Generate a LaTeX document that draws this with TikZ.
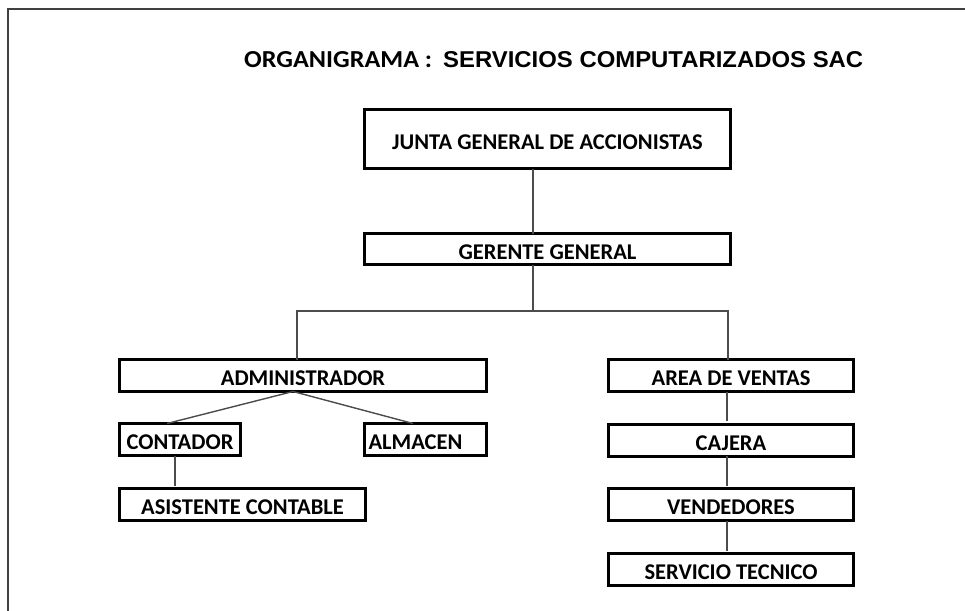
\documentclass[tikz,border=0pt]{standalone}
\usepackage{fontspec}
\setmainfont{Carlito}
\newfontfamily\arialb{Liberation Sans}
\usetikzlibrary{calc}
\tikzset{
  orgbox/.style={draw=black, line width=3pt, fill=white, inner sep=0pt,
    font=\bfseries\fontsize{22.5}{25}\selectfont, text height=20.5pt, text depth=0pt},
  link/.style={draw=black!70, line width=1.5pt},
  frameline/.style={draw=black!75, line width=2.2pt}
}
\begin{document}
\begin{tikzpicture}[x=1pt,y=-1pt]
\useasboundingbox (0,0) rectangle (965,610);
\fill[white] (0,0) rectangle (965,610);
% frame
\draw[frameline] (8,612) -- (8,9) -- (967,9);
% title
\node[anchor=base west, inner sep=0pt] (t1) at (244,67) {\resizebox{188pt}{16pt}{\bfseries ORGANIGRAMA :}};
\node[anchor=base west, inner sep=0pt] (t2) at (443,67) {\resizebox{420pt}{16pt}{\arialb\bfseries SERVICIOS COMPUTARIZADOS SAC}};
% boxes
\node[orgbox, minimum width=366pt, minimum height=59pt] (junta) at (547.5,139) {JUNTA GENERAL DE ACCIONISTAS};
\node[orgbox, minimum width=366pt, minimum height=31pt] (gerente) at (547.5,249) {GERENTE GENERAL};
\node[orgbox, minimum width=367pt, minimum height=32pt] (admin) at (303,375.5) {ADMINISTRADOR};
\node[orgbox, minimum width=121pt, minimum height=32pt] (contador) at (180,439.5) {CONTADOR};
\node[orgbox, text width=114pt, inner xsep=4pt, align=left, minimum height=32pt] (almacen) at (425.5,439.5) {ALMACEN};
\node[orgbox, minimum width=246pt, minimum height=32pt] (asistente) at (242.5,504.5) {ASISTENTE CONTABLE};
\node[orgbox, minimum width=245pt, minimum height=32pt] (area) at (731,375.5) {AREA DE VENTAS};
\node[orgbox, minimum width=245pt, minimum height=32pt] (cajera) at (731,440) {CAJERA};
\node[orgbox, minimum width=245pt, minimum height=32pt] (vend) at (731,504.5) {VENDEDORES};
\node[orgbox, minimum width=245pt, minimum height=32pt] (serv) at (731,569.5) {SERVICIO TECNICO};
% helper coordinates
\coordinate (gv) at (533,0);
\coordinate (busL) at (297,311);
\coordinate (busM) at (533,311);
\coordinate (busR) at (728,311);
\coordinate (ad) at (293,0);
\coordinate (ct) at (167,0);
\coordinate (al) at (413,0);
\coordinate (cv) at (175,0);
\coordinate (rv) at (727,0);
% connectors
\draw[link] ([yshift=1.5pt]junta.south -| gv) -- ([yshift=-1.5pt]gerente.north -| gv);
\draw[link] ([yshift=1.5pt]gerente.south -| gv) -- ([yshift=1pt]busM);
\draw[link] ([yshift=-1.5pt]admin.north -| busL) -- (busL) -- (busR) -- ([yshift=-1.5pt]area.north -| busR);
\draw[link, line width=1.4pt] ([yshift=1.5pt]admin.south -| ad) -- ([yshift=-1.5pt]contador.north -| ct);
\draw[link, line width=1.4pt] ([yshift=1.5pt]admin.south -| ad) -- ([yshift=-1.5pt]almacen.north -| al);
\draw[link, shorten >=3pt] ([yshift=1.5pt]contador.south -| cv) -- ([yshift=-1.5pt]asistente.north -| cv);
\draw[link, shorten >=3pt] ([yshift=1.5pt]area.south -| rv) -- ([yshift=-1.5pt]cajera.north -| rv);
\draw[link, shorten >=3pt] ([yshift=1.5pt]cajera.south -| rv) -- ([yshift=-1.5pt]vend.north -| rv);
\draw[link, shorten >=3pt] ([yshift=1.5pt]vend.south -| rv) -- ([yshift=-1.5pt]serv.north -| rv);
\end{tikzpicture}
\end{document}
